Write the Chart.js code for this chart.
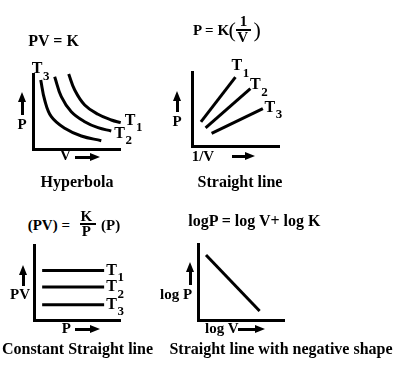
<!DOCTYPE html>
<html>
<head>
<meta charset="utf-8">
<script src="https://cdn.jsdelivr.net/npm/chart.js@4.4.1/dist/chart.umd.min.js"></script>
<style>
  html, body { margin: 0; padding: 0; background: #fff; }
  #stage { position: relative; width: 405px; height: 372px; overflow: hidden; background: #fff; }
  #stage canvas { position: absolute; }
  .t { position: absolute; color: #000; font-weight: bold; font-family: "Liberation Serif", "DejaVu Serif", serif; line-height: 1; white-space: nowrap; }
  .bar { position: absolute; background: #000; }
</style>
</head>
<body>
<div id="stage"></div>
<script>
// ---- data (plot box = 0..100 on both axes) ----
const tempNames = ['1', '2', '3'];

// PV = K, hyperbolas (T1 outer, T2 middle, T3 inner)
const hypT1x = [41.5, 48.5, 60.1, 75.6, 91.0, 102.0];
const hypT1y = [100.0, 78.7, 58.7, 46.3, 38.7, 35.1];
const hypT2x = [25.2, 32.9, 44.5, 60.1, 75.6, 91.0];
const hypT2y = [96.4, 69.7, 49.7, 36.4, 28.4, 24.0];
const hypT3x = [9.0, 13.6, 21.3, 36.9, 56.2, 79.4];
const hypT3y = [92.0, 65.3, 43.1, 27.6, 17.3, 11.1];

// P vs 1/V straight lines
const linT1x = [10.4, 50.5];
const linT1y = [32.6, 93.0];
const linT2x = [15.8, 67.9];
const linT2y = [24.6, 77.4];
const linT3x = [22.8, 82.4];
const linT3y = [17.0, 50.6];

// PV vs P constant lines
const constX = [9.6, 82.5];
const constLevels = [66, 44, 20.5];

// log P vs log V
const logX = [9.4, 72.5];
const logY = [85.5, 11.8];

const stage = document.getElementById('stage');

function txt(s, x, base, size, center) {
  const el = document.createElement('span');
  el.className = 't';
  el.textContent = s;
  el.style.fontSize = size + 'px';
  el.style.left = x + 'px';
  el.style.top = (base - 0.8375 * size) + 'px';
  if (center) el.style.transform = 'translateX(-50%)';
  stage.appendChild(el);
  return el;
}

function rect(x, y, w, h) {
  const el = document.createElement('div');
  el.className = 'bar';
  el.style.left = x + 'px'; el.style.top = y + 'px';
  el.style.width = w + 'px'; el.style.height = h + 'px';
  stage.appendChild(el);
}

function arrowUp(cx, tip, bottom) {
  rect(cx - 1.5, tip + 8, 3, bottom - tip - 8);
  const h = document.createElement('div');
  h.style.cssText = 'position:absolute;width:0;height:0;border-left:4.5px solid transparent;border-right:4.5px solid transparent;border-bottom:10px solid #000;';
  h.style.left = (cx - 4.5) + 'px'; h.style.top = tip + 'px';
  stage.appendChild(h);
}

function arrowRight(x0, tip, cy) {
  rect(x0, cy - 1.5, tip - x0 - 8, 3);
  const h = document.createElement('div');
  h.style.cssText = 'position:absolute;width:0;height:0;border-top:4.5px solid transparent;border-bottom:4.5px solid transparent;border-left:10px solid #000;';
  h.style.left = (tip - 10) + 'px'; h.style.top = (cy - 4.5) + 'px';
  stage.appendChild(h);
}

function pts(xs, ys) {
  return xs.map((x, i) => ({ x: x, y: ys[i] }));
}

// puts the T-labels next to the end of a line, using the chart's own pixels
const tagPlugin = {
  id: 'tags',
  afterDraw(chart) {
    if (chart._tagsDone) return;
    chart._tagsDone = true;
    const cv = chart.canvas;
    chart.data.datasets.forEach((ds, i) => {
      if (!ds.tag) return;
      const meta = chart.getDatasetMeta(i);
      const p = meta.data[ds.tag.at === 'start' ? 0 : meta.data.length - 1];
      const x = cv.offsetLeft + p.x + ds.tag.dx;
      const base = cv.offsetTop + p.y + ds.tag.dy;
      txt('T', x, base, 16);
      txt(ds.tag.sub, x + 11.3, base + 6, 13);
    });
  }
};

const pad = 6;
function makePanel(box, datasets) {
  const cv = document.createElement('canvas');
  cv.width = box.w + 2 * pad;
  cv.height = box.h + 2 * pad;
  cv.style.left = (box.x - pad) + 'px';
  cv.style.top = (box.y - pad) + 'px';
  stage.appendChild(cv);
  const axis = {
    type: 'linear', min: 0, max: 100,
    ticks: { display: false },
    grid: { display: false, drawTicks: false, lineWidth: 3 },
    border: { display: true, width: 3, color: '#000' }
  };
  return new Chart(cv.getContext('2d'), {
    type: 'scatter',
    data: {
      datasets: datasets.map(d => Object.assign({
        showLine: true,
        borderColor: '#000',
        backgroundColor: '#000',
        borderWidth: 3,
        pointRadius: 0,
        fill: false,
        clip: false
      }, d))
    },
    options: {
      responsive: false,
      devicePixelRatio: 1,
      animation: false,
      events: [],
      layout: { autoPadding: false, padding: pad },
      plugins: { legend: { display: false }, tooltip: { enabled: false }, title: { display: false } },
      scales: { x: Object.assign({ position: 'bottom' }, axis), y: Object.assign({ position: 'left' }, axis) }
    },
    plugins: [tagPlugin]
  });
}

// Panel 1 - hyperbola
makePanel({ x: 33, y: 74, w: 86, h: 75 }, [
  { data: pts(hypT1x, hypT1y), tension: 0.4, tag: { sub: tempNames[0], at: 'end', dx: 4, dy: 2.5 } },
  { data: pts(hypT2x, hypT2y), tension: 0.4, tag: { sub: tempNames[1], at: 'end', dx: 3, dy: 7 } },
  { data: pts(hypT3x, hypT3y), tension: 0.4, tag: { sub: tempNames[2], at: 'start', dx: -9, dy: -6.5 } }
]);

// Panel 2 - P against 1/V
makePanel({ x: 192, y: 71.5, w: 86.5, h: 74.5 }, [
  { data: pts(linT1x, linT1y), tag: { sub: tempNames[0], at: 'end', dx: -4, dy: -6.5 } },
  { data: pts(linT2x, linT2y), tag: { sub: tempNames[1], at: 'end', dx: -0.5, dy: 0.7 } },
  { data: pts(linT3x, linT3y), tag: { sub: tempNames[2], at: 'end', dx: 1.7, dy: 3.4 } }
]);

// Panel 3 - PV against P
makePanel({ x: 33.5, y: 245, w: 85.5, h: 75.5 }, constLevels.map((lv, i) => ({
  data: pts(constX, constX.map(() => lv)),
  tag: { sub: tempNames[i], at: 'end', dx: 2, dy: 4.5 }
})));

// Panel 4 - log P against log V
makePanel({ x: 198, y: 244, w: 85.5, h: 76 }, [
  { data: pts(logX, logY) }
]);

// ---- titles ----
txt('PV = K', 28.3, 46.5, 16);

txt('P = K', 193, 35.3, 15);
txt('(', 228.5, 37.5, 22).style.fontWeight = 'normal';
txt('1', 239.7, 27, 15);
rect(236, 28.5, 15, 2);
txt('V', 237.3, 42.7, 15);
txt(')', 253.5, 37.5, 22).style.fontWeight = 'normal';

txt('(PV) =', 27.7, 230.5, 15);
txt('K', 80.5, 221.7, 15);
rect(80, 223, 16, 2);
txt('P', 81.7, 236.7, 15);
txt('(P)', 101, 230.5, 15);

txt('logP = log V+ log K', 188.3, 226.5, 16);

// ---- axis names and arrows ----
arrowUp(22.5, 92, 115);
txt('P', 22, 129.5, 15, true);
txt('V', 60, 161, 15);
arrowRight(75, 100, 157);

arrowUp(177, 91, 112);
txt('P', 177, 126.5, 15, true);
txt('1/V', 191.7, 161.7, 15);
arrowRight(231.7, 255, 156.7);

arrowUp(23.3, 265, 286);
txt('PV', 10, 300, 15);
txt('P', 61.7, 334, 15);
arrowRight(75, 100, 329.5);

arrowUp(190, 262, 285);
txt('log P', 160, 299.5, 15);
txt('log V', 205, 334, 15);
arrowRight(238.3, 265, 329.5);

// ---- captions ----
txt('Hyperbola', 77, 187.5, 16, true);
txt('Straight line', 240, 187.5, 16, true);
txt('Constant Straight line', 77.5, 354, 16, true);
txt('Straight line with negative shape', 281, 354, 16, true);
</script>
</body>
</html>
